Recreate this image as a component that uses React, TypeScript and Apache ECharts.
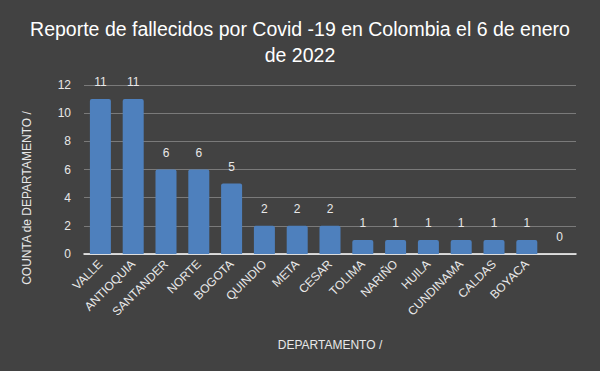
import React, { useEffect, useRef } from "react";
import * as echarts from "echarts";

const categories = ["VALLE", "ANTIOQUIA", "SANTANDER", "NORTE", "BOGOTA", "QUINDIO", "META", "CESAR", "TOLIMA", "NARIÑO", "HUILA", "CUNDINAMA", "CALDAS", "BOYACA", ""];
const values = [11, 11, 6, 6, 5, 2, 2, 2, 1, 1, 1, 1, 1, 1, 0];
const titleText = "Reporte de fallecidos por Covid -19 en Colombia el 6 de enero\nde 2022";
const yName = "COUNTA de DEPARTAMENTO /";
const xName = "DEPARTAMENTO /";

const FONT = "'Liberation Sans', Arial, sans-serif";

export default function App() {
  const ref = useRef<HTMLDivElement>(null);
  useEffect(() => {
    if (!ref.current) return;
    const chart = echarts.init(ref.current, undefined, { renderer: "svg" });
    chart.setOption({
      animation: false,
      backgroundColor: "#424242",
      textStyle: { fontFamily: FONT },
      title: {
        text: titleText,
        left: "center",
        top: 11,
        textStyle: { color: "#ffffff", fontSize: 19.5, fontWeight: "normal", lineHeight: 26, fontFamily: FONT },
      },
      grid: { left: 84, right: 24, top: 85, bottom: 117, containLabel: false },
      xAxis: {
        type: "category",
        data: categories,
        axisLine: { lineStyle: { color: "#ffffff", width: 1.5 } },
        axisTick: { show: false },
        axisLabel: { color: "#e8e8e8", fontSize: 12, rotate: 45, margin: 8, interval: 0, fontFamily: FONT },
      },
      yAxis: {
        type: "value",
        min: 0,
        max: 12,
        interval: 2,
        axisLine: { show: false },
        axisTick: { show: false },
        axisLabel: { color: "#e8e8e8", fontSize: 12, margin: 13, fontFamily: FONT },
        splitLine: { lineStyle: { color: "#7a7a7a", width: 1 } },
      },
      graphic: [
        {
          type: "text",
          x: 27,
          y: 198,
          rotation: Math.PI / 2,
          style: { text: yName, fill: "#e8e8e8", font: `12px ${FONT}`, align: "center", verticalAlign: "middle" },
        },
        {
          type: "text",
          x: 330,
          y: 345,
          style: { text: xName, fill: "#e8e8e8", font: `12px ${FONT}`, align: "center", verticalAlign: "middle" },
        },
      ],
      series: [
        {
          type: "bar",
          data: values,
          barWidth: 21,
          itemStyle: { color: "#4e80bd", borderRadius: [2, 2, 0, 0] },
          label: { show: true, position: "top", distance: 11, color: "#e8e8e8", fontSize: 12, fontFamily: FONT },
        },
      ],
    });
    return () => chart.dispose();
  }, []);
  return <div ref={ref} style={{ width: 600, height: 371, position: "fixed", left: 0, top: 0 }} />;
}
